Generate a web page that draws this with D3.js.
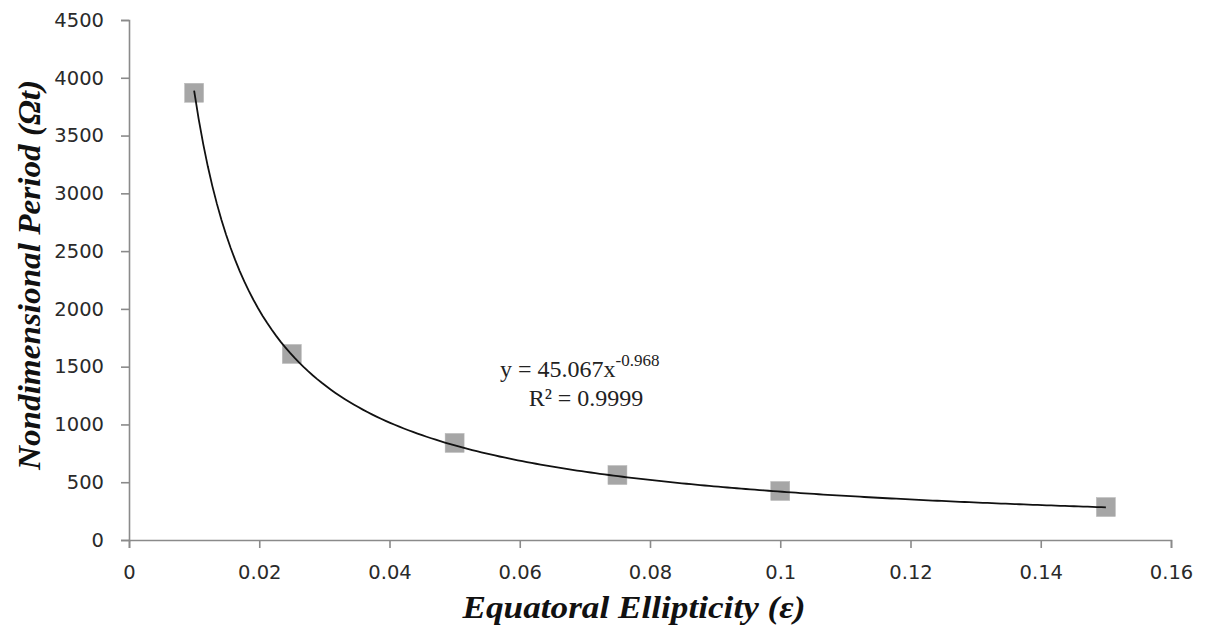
<!DOCTYPE html>
<html>
<head>
<meta charset="utf-8">
<script src="https://cdn.jsdelivr.net/npm/d3@7"></script>
<style>
  html, body { margin: 0; padding: 0; background: #fff; }
  svg { display: block; }
</style>
</head>
<body>
<svg id="chart" width="1212" height="632"></svg>
<script>
// ---- data ----
const ellipticity = [0.01, 0.025, 0.05, 0.075, 0.1, 0.15];
const period = [3870, 1610, 840, 562, 424, 285];
const xTicks = [0, 0.02, 0.04, 0.06, 0.08, 0.1, 0.12, 0.14, 0.16];
const yTicks = [0, 500, 1000, 1500, 2000, 2500, 3000, 3500, 4000, 4500];
const fitA = 45.067;
const fitB = -0.968;
const fitR2 = "0.9999";
const xTitle = "Equatoral Ellipticity (ε)";
const yTitle = "Nondimensional Period (Ωt)";

// ---- layout ----
const W = 1212, H = 632;
const m = { left: 129, right: 41, top: 20, bottom: 92 };
const svg = d3.select("#chart");
const x = d3.scaleLinear().domain([0, 0.16]).range([m.left, W - m.right]);
const y = d3.scaleLinear().domain([0, 4500]).range([H - m.bottom, m.top]);
const axisColor = "#8a8a8a";
const tickFont = "'DejaVu Sans', Verdana, sans-serif";
const serif = "'Liberation Serif', 'Times New Roman', serif";

// x axis
const gx = svg.append("g")
  .attr("transform", `translate(0,${H - m.bottom})`)
  .call(d3.axisBottom(x).tickValues(xTicks).tickFormat(d => String(+d.toFixed(2))).tickSize(8).tickPadding(17));
// y axis
const gy = svg.append("g")
  .attr("transform", `translate(${m.left},0)`)
  .call(d3.axisLeft(y).tickValues(yTicks).tickFormat(d3.format("d")).tickSize(8).tickPadding(17));

[gx, gy].forEach(g => {
  g.select(".domain").attr("stroke", axisColor).attr("stroke-width", 1.6);
  g.selectAll(".tick line").attr("stroke", axisColor).attr("stroke-width", 1.6);
  g.selectAll(".tick text").attr("fill", "#2a2a2a")
    .style("font-family", tickFont).style("font-size", "19.5px");
});

// markers
const s = 19;
svg.append("g").selectAll("rect")
  .data(ellipticity.map((e, i) => ({ e, p: period[i] })))
  .join("rect")
  .attr("x", d => x(d.e) - s / 2)
  .attr("y", d => y(d.p) - s / 2)
  .attr("width", s).attr("height", s)
  .attr("fill", "#a6a6a6")
  .attr("stroke", "#b8b8b8").attr("stroke-width", 0.5);

// trendline (power fit from the displayed equation), drawn above markers
const fitXs = d3.range(0, 201).map(i => 0.01 + (0.15 - 0.01) * i / 200);
svg.append("path")
  .datum(fitXs)
  .attr("fill", "none")
  .attr("stroke", "#111")
  .attr("stroke-width", 1.8)
  .attr("d", d3.line().x(d => x(d)).y(d => y(fitA * Math.pow(d, fitB))));

// equation
const eq = svg.append("text")
  .attr("x", 500).attr("y", 377)
  .attr("text-anchor", "start")
  .style("font-family", serif)
  .style("font-size", "24px")
  .attr("fill", "#222");
eq.append("tspan").text(`y = ${fitA}x`);
eq.append("tspan").attr("dy", -11).style("font-size", "17px").text(`${fitB}`);

svg.append("text")
  .attr("x", 586).attr("y", 406)
  .attr("text-anchor", "middle")
  .style("font-family", serif)
  .style("font-size", "24px")
  .attr("fill", "#222")
  .text(`R² = ${fitR2}`);

// axis titles
svg.append("text")
  .attr("x", 634).attr("y", 618)
  .attr("text-anchor", "middle")
  .attr("textLength", 343).attr("lengthAdjust", "spacingAndGlyphs")
  .style("font-family", serif)
  .style("font-weight", "bold").style("font-style", "italic")
  .style("font-size", "31px")
  .attr("fill", "#111")
  .text(xTitle);

svg.append("text")
  .attr("transform", `translate(40,275) rotate(-90)`)
  .attr("text-anchor", "middle")
  .attr("textLength", 390).attr("lengthAdjust", "spacingAndGlyphs")
  .style("font-family", serif)
  .style("font-weight", "bold").style("font-style", "italic")
  .style("font-size", "31px")
  .attr("fill", "#111")
  .text(yTitle);
</script>
</body>
</html>
